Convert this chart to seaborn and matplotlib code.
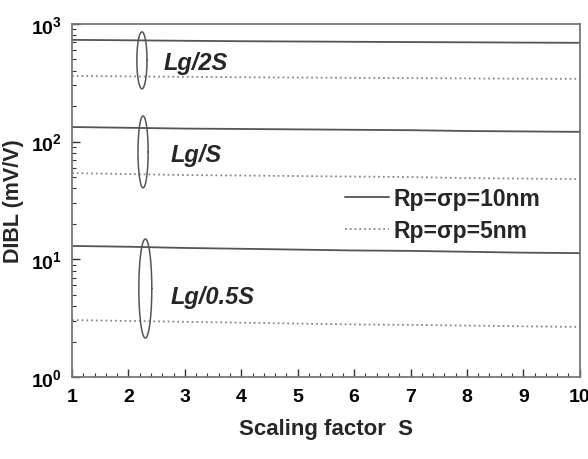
import numpy as np
import pandas as pd
import matplotlib
matplotlib.use("Agg")
import matplotlib.pyplot as plt
import matplotlib.ticker as mticker
import seaborn as sns

# Data
scale = [1, 2, 3, 4, 5, 6, 7, 8, 9, 10]
lg2s_10nm = [731, 725, 718, 712, 708, 704, 700, 697, 693, 690]
lg2s_5nm = [361, 358, 355, 352, 350, 348, 346, 344, 342, 341]
lgs_10nm = [133, 131, 129, 128, 127, 126, 125, 123, 122, 121]
lgs_5nm = [54, 53, 52, 51.5, 51, 50.5, 50, 49, 48.5, 48]
lg05s_10nm = [13.0, 12.8, 12.5, 12.3, 12.1, 11.9, 11.8, 11.6, 11.4, 11.3]
lg05s_5nm = [3.05, 3.0, 2.95, 2.9, 2.85, 2.8, 2.78, 2.74, 2.7, 2.67]

groups = ["Lg/2S", "Lg/S", "Lg/0.5S"]
series_10nm = [lg2s_10nm, lgs_10nm, lg05s_10nm]
series_5nm = [lg2s_5nm, lgs_5nm, lg05s_5nm]

rows = []
for g, a, b in zip(groups, series_10nm, series_5nm):
    for s, v in zip(scale, a):
        rows.append((g, "Rp=σp=10nm", s, v))
    for s, v in zip(scale, b):
        rows.append((g, "Rp=σp=5nm", s, v))
df = pd.DataFrame(rows, columns=["group", "implant", "S", "DIBL"])

sns.set_theme(style="white")
plt.rcParams["font.family"] = ["Liberation Sans", "DejaVu Sans"]
plt.rcParams["mathtext.fontset"] = "custom"
plt.rcParams["mathtext.rm"] = "Liberation Sans"
plt.rcParams["mathtext.bf"] = "Liberation Sans:bold"

fig = plt.figure(figsize=(5.88, 4.6), dpi=100)
ax = fig.add_axes([0.1224, 0.178, 0.8636, 0.768])

styles = {"Rp=σp=10nm": ("-", "#555555", 1.3), "Rp=σp=5nm": (":", "#888888", 1.3)}
for (g, imp), sub in df.groupby(["group", "implant"], sort=False):
    ls, col, lw = styles[imp]
    sns.lineplot(data=sub, x="S", y="DIBL", ax=ax, color=col, linestyle=ls,
                 linewidth=lw, label=imp if g == "Lg/2S" else None)

ax.set_yscale("log")
ax.set_xlim(1, 10)
ax.set_ylim(1, 1000)

# ellipses around each pair (center x, half width, log10 bottom, log10 top)
ellipses = [(2.24, 0.09, 2.448, 2.932), (2.26, 0.09, 1.607, 2.218), (2.30, 0.115, 0.332, 1.173)]
t = np.linspace(0, 2 * np.pi, 200)
for cx, hw, lo, hi in ellipses:
    mid, half = (lo + hi) / 2, (hi - lo) / 2
    ax.plot(cx + hw * np.cos(t), 10 ** (mid + half * np.sin(t)), color="#555555", lw=1.1)

label_pos = [(2.62, 470), (2.75, 78), (2.75, 4.8)]
for g, (x, y) in zip(groups, label_pos):
    ax.text(x, y, g, fontsize=17, fontweight="bold", fontstyle="italic", va="center")

ax.xaxis.set_major_locator(mticker.MultipleLocator(1))
ax.xaxis.set_minor_locator(mticker.MultipleLocator(0.2))
ax.yaxis.set_major_locator(mticker.LogLocator(base=10))
ax.yaxis.set_minor_locator(mticker.LogLocator(base=10, subs=np.arange(2, 10)))
ax.yaxis.set_major_formatter(mticker.FuncFormatter(lambda v, p: r"$\mathbf{10^{%d}}$" % round(np.log10(v))))
ax.tick_params(axis="both", which="both", direction="in", left=True, bottom=True,
               top=False, right=False, colors="#333333")
ax.tick_params(axis="both", which="major", length=6, width=1, labelsize=14, labelcolor="black")
ax.tick_params(axis="x", which="major", pad=8)
ax.tick_params(axis="y", which="major", pad=7)
ax.tick_params(axis="both", which="minor", length=3, width=0.8)
for lab in ax.get_xticklabels():
    lab.set_fontweight("bold")

for sp in ax.spines.values():
    sp.set_color("#777777")
    sp.set_linewidth(1.3)

ax.set_xlabel("Scaling factor  S", fontsize=16, fontweight="bold", labelpad=9)
ax.set_ylabel("DIBL (mV/V)", fontsize=15.5, fontweight="bold", labelpad=5)

leg = ax.legend(loc="upper left", bbox_to_anchor=(0.52, 0.565), frameon=False,
                prop={"size": 16.5, "weight": "bold"}, handlelength=1.9,
                handletextpad=0.2, labelspacing=0.4, borderaxespad=0)

fig.savefig("out.png", dpi=100)
